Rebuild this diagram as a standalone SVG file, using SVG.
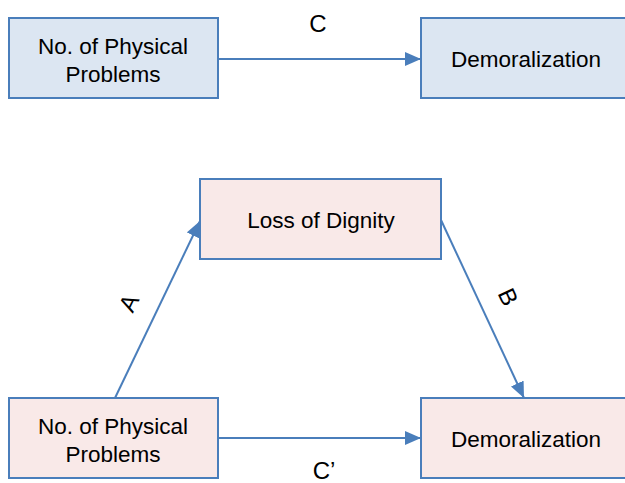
<svg xmlns="http://www.w3.org/2000/svg" width="625" height="483" viewBox="0 0 625 483">
<style>
.blue{fill:#dce6f2;stroke:#4a7ebb;stroke-width:2}
.pink{fill:#f9e9e8;stroke:#4a7ebb;stroke-width:2}
text{font-family:"Liberation Sans",Arial,sans-serif;font-size:22.5px;fill:#000;text-anchor:middle}
.lbl{font-size:24px}
.conn{stroke:#4a7ebb;stroke-width:2;fill:none;marker-end:url(#ah)}
</style>
<defs>
<marker id="ah" viewBox="0 0 16 14" refX="16" refY="7" markerWidth="16" markerHeight="14" markerUnits="userSpaceOnUse" orient="auto">
<path d="M0,0 L16,7 L0,14 Z" fill="#4a7ebb"/>
</marker>
</defs>
<g id="connectors">
<line class="conn" x1="218" y1="59" x2="421" y2="59"/>
<line class="conn" x1="115" y1="398" x2="200" y2="221"/>
<line class="conn" x1="441" y1="220" x2="524" y2="398"/>
<line class="conn" x1="218" y1="438" x2="421" y2="438"/>
<text class="lbl" x="318" y="32">C</text>
<text class="lbl" transform="translate(129,303) rotate(-64)" y="8">A</text>
<text class="lbl" transform="translate(508,297) rotate(65)" y="8">B</text>
<text class="lbl" x="324" y="479">C’</text>
</g>
<g id="top-physical">
<rect class="blue" x="9" y="18" width="209" height="80"/>
<text x="113" y="54">No. of Physical</text>
<text x="113" y="82">Problems</text>
</g>
<g id="top-demoralization">
<rect class="blue" x="421" y="18" width="210" height="80"/>
<text x="526" y="67">Demoralization</text>
</g>
<g id="loss-of-dignity">
<rect class="pink" x="200" y="179" width="241" height="80"/>
<text x="321" y="228">Loss of Dignity</text>
</g>
<g id="bottom-physical">
<rect class="pink" x="9" y="398" width="209" height="80"/>
<text x="113" y="434">No. of Physical</text>
<text x="113" y="462">Problems</text>
</g>
<g id="bottom-demoralization">
<rect class="pink" x="421" y="398" width="210" height="80"/>
<text x="526" y="447">Demoralization</text>
</g>
</svg>
